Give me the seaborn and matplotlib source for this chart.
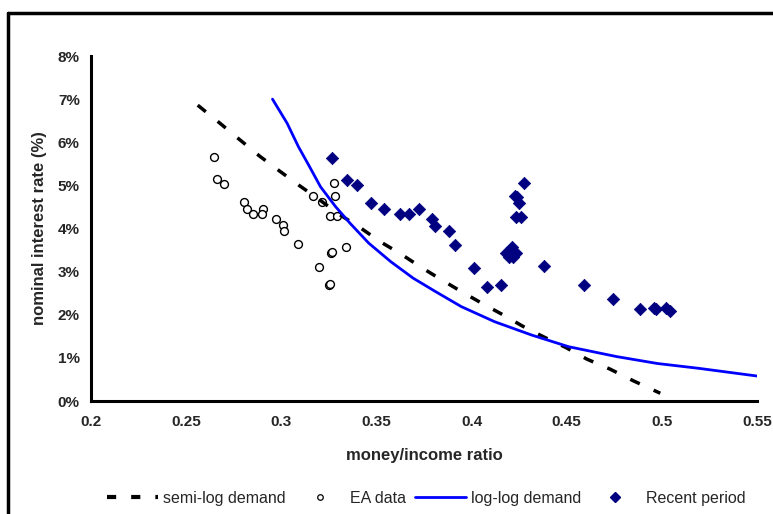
# money demand chart: EA data vs semi-log / log-log demand curves
import matplotlib.pyplot as plt
import seaborn as sns
from matplotlib.lines import Line2D

# EA data (open circles)
ea_x = [0.2644, 0.2663, 0.2699, 0.2805, 0.2818, 0.2852, 0.2905, 0.2900,
        0.2972, 0.3010, 0.3012, 0.3086, 0.3168, 0.3213, 0.3276, 0.3282,
        0.3254, 0.3294, 0.3261, 0.3267, 0.3339, 0.3199, 0.3250, 0.3255]
ea_y = [5.65, 5.14, 5.04, 4.61, 4.46, 4.34, 4.46, 4.34,
        4.22, 4.08, 3.95, 3.64, 4.76, 4.62, 5.05, 4.76,
        4.28, 4.28, 3.44, 3.46, 3.58, 3.10, 2.68, 2.72]

# recent period (diamonds)
recent_x = [0.3269, 0.3343, 0.3399, 0.3471, 0.3539, 0.3623, 0.3672, 0.3724,
            0.3793, 0.3807, 0.3882, 0.3913, 0.4013, 0.4083, 0.4155, 0.4180,
            0.4195, 0.4212, 0.4218, 0.4234, 0.4228, 0.4237, 0.4249, 0.4236,
            0.4258, 0.4276, 0.4383, 0.4589, 0.4743, 0.4885, 0.4959, 0.4971,
            0.5024, 0.5041]
recent_y = [5.63, 5.13, 5.01, 4.60, 4.45, 4.33, 4.33, 4.45,
            4.22, 4.06, 3.94, 3.62, 3.08, 2.64, 2.70, 3.44,
            3.35, 3.56, 3.35, 3.43, 4.76, 4.73, 4.59, 4.27,
            4.27, 5.05, 3.12, 2.70, 2.37, 2.13, 2.15, 2.13,
            2.15, 2.09]

# semi-log demand curve
semilog_x = [0.2561, 0.2681, 0.2779, 0.2886, 0.2989, 0.3094, 0.3197, 0.3304,
             0.3415, 0.3518, 0.3625, 0.3732, 0.3839, 0.3946, 0.4053, 0.4165,
             0.4267, 0.4378, 0.4496, 0.4607, 0.4728, 0.4850, 0.4992]
semilog_y = [6.86, 6.43, 6.07, 5.68, 5.34, 5.00, 4.68, 4.33,
             4.02, 3.70, 3.42, 3.11, 2.82, 2.54, 2.27, 2.00,
             1.74, 1.49, 1.24, 0.97, 0.74, 0.47, 0.18]

# log-log demand curve
loglog_x = [0.2954, 0.3031, 0.3090, 0.3148, 0.3206, 0.3285, 0.3362, 0.3460,
            0.3576, 0.3693, 0.3810, 0.3946, 0.4121, 0.4316, 0.4510, 0.4763,
            0.4977, 0.5191, 0.5500]
loglog_y = [7.00, 6.44, 5.90, 5.44, 4.97, 4.51, 4.12, 3.66,
            3.23, 2.85, 2.54, 2.19, 1.84, 1.53, 1.26, 1.03,
            0.87, 0.76, 0.58]

x_ticks = [0.2, 0.25, 0.3, 0.35, 0.4, 0.45, 0.5, 0.55]
y_ticks = [0, 1, 2, 3, 4, 5, 6, 7, 8]

sns.set_style("white")
plt.rcParams['font.family'] = ['Liberation Sans', 'DejaVu Sans']

fig = plt.figure(figsize=(7.73, 5.14), dpi=100)
ax = fig.add_axes([0.1177, 0.2198, 0.8615, 0.6712])

sns.lineplot(x=semilog_x, y=semilog_y, ax=ax, color='black', lw=2.5,
             dashes=False, sort=False, estimator=None)
ax.lines[-1].set_dashes((3.0, 4.4))
sns.scatterplot(x=ea_x, y=ea_y, ax=ax, marker='o', s=32,
                facecolor='white', edgecolor='black', linewidth=1.0)
sns.lineplot(x=loglog_x, y=loglog_y, ax=ax, color='#0000FF', lw=2.0,
             sort=False, estimator=None)
sns.scatterplot(x=recent_x, y=recent_y, ax=ax, marker='D', s=40,
                color='#000080', edgecolor='#000080', linewidth=0.5)

ax.set_xlim(0.2, 0.55)
ax.set_ylim(0, 8)
ax.set_xticks(x_ticks)
ax.set_xticklabels([f'{t:g}' for t in x_ticks], fontweight='bold', fontsize=11)
ax.set_yticks(y_ticks)
ax.set_yticklabels([f'{t}%' for t in y_ticks], fontweight='bold', fontsize=11)
ax.tick_params(axis='x', length=0, pad=10)
ax.tick_params(axis='y', length=0, pad=8)

ax.set_xlabel('money/income ratio', fontweight='bold', fontsize=12, labelpad=14)
ax.set_ylabel('nominal interest rate (%)', fontweight='bold', fontsize=12, labelpad=8)

sns.despine(ax=ax)
for side in ['left', 'bottom']:
    ax.spines[side].set_color('black')
    ax.spines[side].set_linewidth(2.2)

# legend
handles = [
    Line2D([], [], color='black', lw=3, dashes=(2.2, 3.6)),
    Line2D([], [], marker='o', ls='none', markersize=4, markerfacecolor='white',
           markeredgecolor='black', markeredgewidth=0.9),
    Line2D([], [], color='#0000FF', lw=2.0),
    Line2D([], [], marker='D', ls='none', markersize=5, color='#000080'),
]
labels = ['semi-log demand', 'EA data', 'log-log demand', 'Recent period']
fig.legend(handles, labels, loc='center', bbox_to_anchor=(0.551, 0.031),
           ncol=4, frameon=False, fontsize=11.5, handlelength=3.2,
           handletextpad=0.3, columnspacing=0.55)

# outer frame (left and top edges)
fig.add_artist(Line2D([0.0104, 0.0104], [0.0, 0.9747], color='black', lw=2.5,
                      transform=fig.transFigure))
fig.add_artist(Line2D([0.0104, 1.0], [0.9747, 0.9747], color='black', lw=2.5,
                      transform=fig.transFigure))

fig.savefig('out.png', dpi=100)
